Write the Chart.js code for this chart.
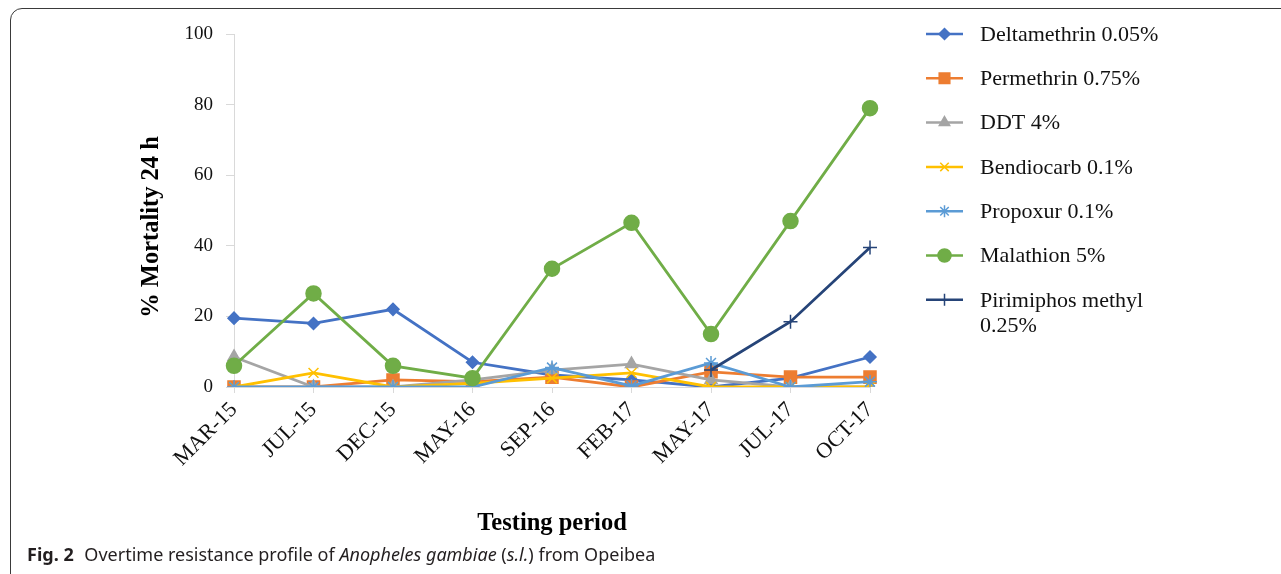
<!DOCTYPE html>
<html>
<head>
<meta charset="utf-8">
<script src="https://cdn.jsdelivr.net/npm/chart.js@4.4.1/dist/chart.umd.min.js"></script>
<style>
html, body { margin: 0; padding: 0; background: #fff; overflow: hidden; }
body { width: 1281px; height: 574px; position: relative; }
.card { position: absolute; left: 10px; top: 8px; width: 1320px; height: 620px; border: 1.5px solid #3a3a3a; border-radius: 12px; }
.wrap { position: absolute; left: 0; top: 0; width: 1281px; height: 545px; }
.caption { position: absolute; left: 27px; top: 543px; font-family: "Noto Sans", sans-serif; font-size: 18px; line-height: 22px; color: #231f20; white-space: nowrap; }
.caption b { margin-right: 6px; }
</style>
</head>
<body>
<div class="card"></div>
<div class="wrap"><canvas id="chart"></canvas></div>
<div class="caption"><b>Fig. 2</b> Overtime resistance profile of <i>Anopheles gambiae</i> (<i>s.l.</i>) from Opeibea</div>
<script>
// data (% mortality after 24 h)
const periods = ['MAR-15', 'JUL-15', 'DEC-15', 'MAY-16', 'SEP-16', 'FEB-17', 'MAY-17', 'JUL-17', 'OCT-17'];
const deltamethrin = [19.5, 18, 22, 7, 3.4, 2, 0, 2.5, 8.5];
const permethrin = [0, 0, 2, 1.5, 2.8, 0, 4.3, 2.8, 2.8];
const ddt = [8.5, 0, 0, 2, 4.8, 6.5, 2, 0, 0];
const bendiocarb = [0, 4, 0, 1, 2.5, 4, 0, 0, 0];
const propoxur = [0, 0, 0, 0, 5.5, 0.3, 6.8, 0, 1.5];
const malathion = [6, 26.5, 6, 2.5, 33.5, 46.5, 15, 47, 79];
const pirimiphos = [null, null, null, null, null, null, 4.8, 18.5, 39.5];
const yTicks = [0, 20, 40, 60, 80, 100];

const seriesNames = ['Deltamethrin 0.05%', 'Permethrin 0.75%', 'DDT 4%', 'Bendiocarb 0.1%', 'Propoxur 0.1%', 'Malathion 5%', 'Pirimiphos methyl\n0.25%'];
const seriesData = [deltamethrin, permethrin, ddt, bendiocarb, propoxur, malathion, pirimiphos];
const colors = ['#4472C4', '#ED7D31', '#A5A5A5', '#FFC000', '#5B9BD5', '#70AD47', '#264478'];
const markers = ['rectRot', 'rect', 'triangle', 'crossRot', 'star', 'circle', 'cross'];
const markerSize = [6, 8.5, 7, 7, 7, 7.5, 7];
const legendSize = [5.5, 7.5, 6, 6, 6, 6.5, 6];
const yTitle = '% Mortality 24 h';

const serif = "'Liberation Serif', 'Times New Roman', serif";

// legend drawn as line + marker, like the original
const legendLines = {
    id: 'legendLines',
    afterDraw(chart) {
        const ctx = chart.ctx;
        ctx.save();
        chart.data.datasets.forEach((ds, i) => {
            const y = 34 + i * 44.3;
            ctx.strokeStyle = ds.borderColor;
            ctx.lineWidth = 2.5;
            ctx.beginPath();
            ctx.moveTo(926, y);
            ctx.lineTo(963, y);
            ctx.stroke();
            ctx.fillStyle = ds.borderColor;
            ctx.strokeStyle = ds.borderColor;
            ctx.lineWidth = 1.5;
            Chart.helpers.drawPoint(ctx, { pointStyle: markers[i], rotation: 0, radius: legendSize[i], borderWidth: 1.5 }, 944.5, y);
            ctx.fillStyle = '#111';
            ctx.font = '22px ' + serif;
            ctx.textBaseline = 'middle';
            ctx.textAlign = 'left';
            seriesNames[i].split('\n').forEach((line, k) => {
                ctx.fillText(line, 980, y + 1 + k * 25);
            });
        });

        // y axis title sits a bit below the axis middle in the original
        ctx.translate(152, 227);
        ctx.rotate(-Math.PI / 2);
        ctx.fillStyle = '#000';
        ctx.font = 'bold 24.5px ' + serif;
        ctx.textAlign = 'center';
        ctx.textBaseline = 'middle';
        ctx.fillText(yTitle, 0, 0);
        ctx.restore();
    }
};

new Chart(
    document.getElementById('chart'),
    {
        type: 'line',
        data: {
            labels: periods,
            datasets: seriesData.map((d, i) => ({
                label: seriesNames[i].replace('\n', ' '),
                data: d,
                borderColor: colors[i],
                backgroundColor: colors[i],
                borderWidth: 2.8,
                pointStyle: markers[i],
                pointRadius: markerSize[i],
                pointBorderWidth: 1.5,
                pointBackgroundColor: colors[i],
                pointBorderColor: colors[i],
                tension: 0,
                spanGaps: false,
                order: 6 - i
            }))
        },
        plugins: [legendLines],
        options: {
            responsive: true,
            maintainAspectRatio: false,
            animation: false,
            events: [],
            layout: {
                padding: { left: 0, top: 34, right: 411, bottom: 0 }
            },
            plugins: {
                legend: { display: false },
                tooltip: { enabled: false }
            },
            scales: {
                x: {
                    offset: false,
                    afterFit: (scale) => { scale.height = 158; },
                    grid: {
                        drawOnChartArea: false,
                        drawTicks: true,
                        tickLength: 6,
                        color: '#d9d9d9'
                    },
                    border: { color: '#d9d9d9', width: 1 },
                    ticks: {
                        minRotation: 45,
                        maxRotation: 45,
                        padding: 4,
                        color: '#111',
                        font: { family: serif, size: 22 }
                    },
                    title: {
                        display: true,
                        text: 'Testing period',
                        color: '#000',
                        padding: { top: 0, bottom: 7 },
                        font: { family: serif, size: 24.5, weight: 'bold' }
                    }
                },
                y: {
                    min: 0,
                    max: 100,
                    afterFit: (scale) => { scale.width = 234; },
                    afterBuildTicks: (scale) => { scale.ticks = yTicks.map(v => ({ value: v })); },
                    grid: {
                        drawOnChartArea: false,
                        drawTicks: true,
                        tickLength: 8,
                        color: '#d9d9d9'
                    },
                    border: { color: '#d9d9d9', width: 1 },
                    ticks: {
                        padding: 13,
                        color: '#111',
                        font: { family: serif, size: 19 }
                    },
                    title: { display: false }
                }
            }
        }
    }
);
</script>
</body>
</html>
